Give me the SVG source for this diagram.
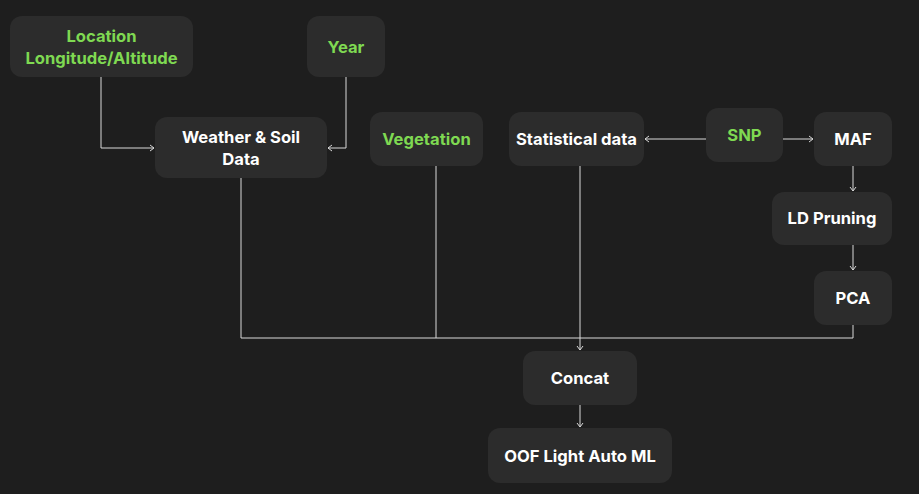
<svg xmlns="http://www.w3.org/2000/svg" width="919" height="494" viewBox="0 0 919 494">
<defs>
<marker id="ah" markerWidth="8" markerHeight="8" refX="6" refY="4" orient="auto" markerUnits="userSpaceOnUse">
<path d="M2,1 L6,4 L2,7" fill="none" stroke="#d9d9d9" stroke-width="1"/>
</marker>
<style>
.n{fill:#2c2c2c}
.t{font-family:Inter,"Liberation Sans",sans-serif;font-weight:700;font-size:16.6px;text-anchor:middle;fill:#ffffff}
.g{fill:#7fd952}
.c{fill:none;stroke:#d9d9d9;stroke-width:1}
</style>
</defs>
<rect width="919" height="494" fill="#1e1e1e"/>
<g id="connectors">
<path class="c" d="M101,77 V148 H154" marker-end="url(#ah)"/>
<path class="c" d="M346,77 V148 H328" marker-end="url(#ah)"/>
<path class="c" d="M706,139 H645" marker-end="url(#ah)"/>
<path class="c" d="M783,139 H813" marker-end="url(#ah)"/>
<path class="c" d="M853,166 V191" marker-end="url(#ah)"/>
<path class="c" d="M853,245 V270" marker-end="url(#ah)"/>
<path class="c" d="M241,178 V338 H853 V325"/>
<path class="c" d="M436,165 V338"/>
<path class="c" d="M580,166 V350" marker-end="url(#ah)"/>
<path class="c" d="M580,405 V427" marker-end="url(#ah)"/>
</g>
<g id="location"><rect class="n" x="10" y="16" width="183" height="61" rx="12"/><text class="t g" x="101.5" y="42">Location</text><text class="t g" x="101.5" y="64">Longitude/Altitude</text></g>
<g id="year"><rect class="n" x="307" y="16" width="78" height="61" rx="12"/><text class="t g" x="346" y="53">Year</text></g>
<g id="weather"><rect class="n" x="155" y="117" width="172" height="61" rx="12"/><text class="t" x="241" y="143">Weather &amp; Soil</text><text class="t" x="241" y="165">Data</text></g>
<g id="vegetation"><rect class="n" x="370" y="112" width="113" height="54" rx="12"/><text class="t g" x="426.5" y="145">Vegetation</text></g>
<g id="statistical"><rect class="n" x="509" y="112" width="135" height="54" rx="12"/><text class="t" x="576.5" y="145">Statistical data</text></g>
<g id="snp"><rect class="n" x="706" y="108" width="77" height="54" rx="12"/><text class="t g" x="744.5" y="141">SNP</text></g>
<g id="maf"><rect class="n" x="814" y="112" width="78" height="54" rx="12"/><text class="t" x="853" y="145">MAF</text></g>
<g id="ldpruning"><rect class="n" x="772" y="192" width="120" height="53" rx="12"/><text class="t" x="832" y="224">LD Pruning</text></g>
<g id="pca"><rect class="n" x="814" y="271" width="78" height="54" rx="12"/><text class="t" x="853" y="304">PCA</text></g>
<g id="concat"><rect class="n" x="523" y="351" width="114" height="54" rx="12"/><text class="t" x="580" y="384">Concat</text></g>
<g id="oof"><rect class="n" x="488" y="428" width="184" height="55" rx="12"/><text class="t" x="580" y="462">OOF Light Auto ML</text></g>
</svg>
